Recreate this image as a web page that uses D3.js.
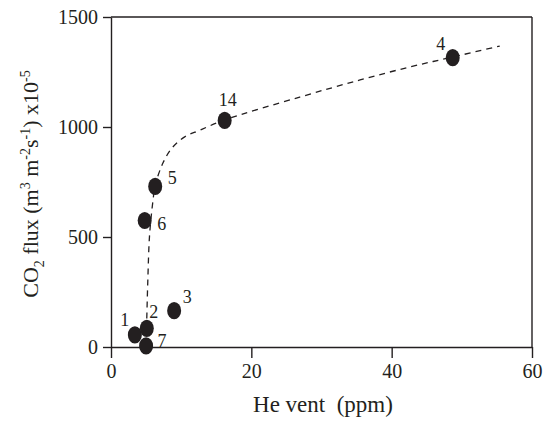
<!DOCTYPE html>
<meta charset="utf-8">
<script src="https://d3js.org/d3.v7.min.js"></script>
<style>
  body { margin: 0; background: #fff; }
  text { font-family: "Liberation Serif", "Times New Roman", serif; fill: #231f20; }
</style>
<div id="chart"></div>
<script>
  // site labels and measured values
  var sites = ["1", "2", "3", "4", "5", "6", "7", "14"];
  var heVent = [3.4, 5.1, 9.0, 48.7, 6.3, 4.8, 5.0, 16.2];
  var co2Flux = [55, 85, 165, 1315, 730, 575, 5, 1030];

  // dashed trend curve
  var curveX = [5.1, 5.25, 5.5, 6.0, 6.3, 7.4, 8.7, 10.5, 12.7, 16.2, 26.9, 35.5, 42.6, 48.7, 55.4];
  var curveY = [130, 305, 510, 670, 735, 836, 905, 955, 986, 1032, 1136, 1214, 1273, 1318, 1368];

  var xTicks = [0, 20, 40, 60];
  var yTicks = [0, 500, 1000, 1500];

  // label offsets from each dot (px)
  var labelOffset = {
    "1": [-10, -15], "2": [7, -16], "3": [13, -14], "4": [-12, -14],
    "5": [17, -8], "6": [17, 3], "7": [16, -5], "14": [3, -20]
  };

  var W = 544, H = 423;
  var mLeft = 111, mRight = 532, mTop = 17, mBottom = 347;

  var svg = d3.select("#chart").append("svg")
    .attr("width", W).attr("height", H);

  var x = d3.scaleLinear().domain([0, 60]).range([mLeft, mRight]);
  var y = d3.scaleLinear().domain([0, 1500]).range([mBottom, mTop]);

  var ink = "#231f20";

  // x axis
  var gx = svg.append("g")
    .attr("transform", "translate(0," + mBottom + ")")
    .call(d3.axisBottom(x).tickValues(xTicks).tickFormat(d3.format("d"))
      .tickSize(11).tickSizeOuter(0).tickPadding(6));
  // y axis
  var gy = svg.append("g")
    .attr("transform", "translate(" + mLeft + ",0)")
    .call(d3.axisLeft(y).tickValues(yTicks).tickFormat(d3.format("d"))
      .tickSize(8).tickSizeOuter(0).tickPadding(5));

  [gx, gy].forEach(function(g) {
    g.selectAll("path, line").attr("stroke", ink).attr("stroke-width", 1.4);
    g.selectAll("text").style("font-size", "20px")
      .style("font-family", '"Liberation Serif", serif').attr("fill", ink);
  });

  // frame top and right
  svg.append("line").attr("x1", mLeft).attr("x2", mRight).attr("y1", mTop).attr("y2", mTop)
    .attr("stroke", ink).attr("stroke-width", 1.4);
  svg.append("line").attr("x1", mRight).attr("x2", mRight).attr("y1", mTop).attr("y2", mBottom)
    .attr("stroke", ink).attr("stroke-width", 1.4);

  // dashed curve
  var line = d3.line()
    .x(function(d, i) { return x(curveX[i]); })
    .y(function(d, i) { return y(curveY[i]); })
    .curve(d3.curveCatmullRom);
  svg.append("path")
    .attr("d", line(curveX))
    .attr("fill", "none")
    .attr("stroke", ink)
    .attr("stroke-width", 1.3)
    .attr("stroke-dasharray", "6,5");

  // dots
  svg.append("g").selectAll("ellipse")
    .data(sites)
    .enter().append("ellipse")
      .attr("cx", function(d, i) { return x(heVent[i]); })
      .attr("cy", function(d, i) { return y(co2Flux[i]); })
      .attr("rx", 7)
      .attr("ry", 8.6)
      .attr("fill", ink);

  // site labels
  svg.append("g").selectAll("text")
    .data(sites)
    .enter().append("text")
      .attr("x", function(d, i) { return x(heVent[i]) + labelOffset[d][0]; })
      .attr("y", function(d, i) { return y(co2Flux[i]) + labelOffset[d][1] + 6; })
      .attr("text-anchor", "middle")
      .style("font-size", "18px")
      .text(function(d) { return d; });

  // x title
  svg.append("text")
    .attr("x", 323).attr("y", 412)
    .attr("text-anchor", "middle")
    .style("font-size", "23px")
    .style("white-space", "pre")
    .text("He vent  (ppm)");

  // y title with sub/superscripts
  var yt = svg.append("text")
    .attr("transform", "translate(38,184) rotate(-90)")
    .attr("text-anchor", "middle")
    .style("font-size", "22px");
  yt.append("tspan").text("CO");
  yt.append("tspan").attr("dy", 6).style("font-size", "14px").text("2");
  yt.append("tspan").attr("dy", -6).text(" flux (m");
  yt.append("tspan").attr("dy", -8).style("font-size", "14px").text("3");
  yt.append("tspan").attr("dy", 8).text(" m");
  yt.append("tspan").attr("dy", -8).style("font-size", "14px").text("-2");
  yt.append("tspan").attr("dy", 8).text("s");
  yt.append("tspan").attr("dy", -8).style("font-size", "14px").text("-1");
  yt.append("tspan").attr("dy", 8).text(") x10");
  yt.append("tspan").attr("dy", -8).style("font-size", "14px").text("-5");
</script>
